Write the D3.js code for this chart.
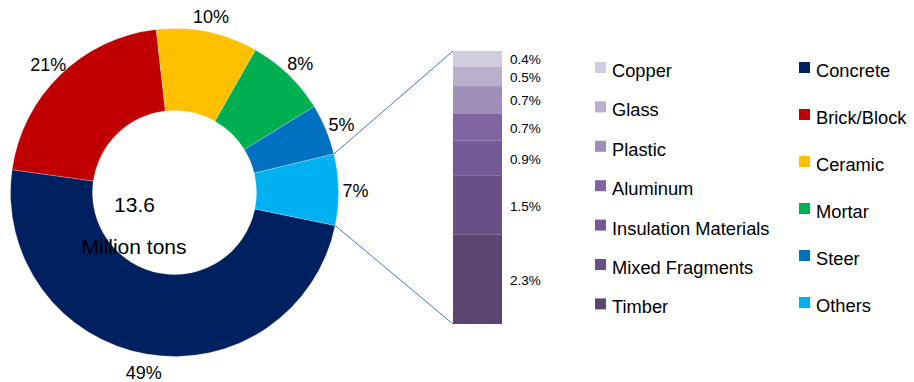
<!DOCTYPE html>
<html>
<head>
<meta charset="utf-8">
<script src="https://cdn.jsdelivr.net/npm/d3@7"></script>
<style>
  html, body { margin: 0; padding: 0; background: #fff; }
  svg { display: block; font-family: "Liberation Sans", Arial, sans-serif; }
</style>
</head>
<body>
<svg id="chart" width="914" height="382"></svg>
<script>
// Main materials (share of total, %)
const mainCategories = ["Concrete", "Brick/Block", "Ceramic", "Mortar", "Steer", "Others"];
const mainValues = [49, 21, 10, 8, 5, 7];
const mainColors = ["#002060", "#C00000", "#FFC000", "#00B050", "#0070C0", "#00B0F0"];

// Breakdown of "Others" (share of total, %), top to bottom
const otherCategories = ["Copper", "Glass", "Plastic", "Aluminum", "Insulation Materials", "Mixed Fragments", "Timber"];
const otherValues = [0.4, 0.5, 0.7, 0.7, 0.9, 1.5, 2.3];
const otherColors = ["#D2CCDF", "#BAAFCC", "#9F8FB8", "#8063A1", "#745A94", "#684F86", "#5B4672"];

const totalLabel = "13.6";
const unitLabel = "Million tons";

const svg = d3.select("#chart");
const cx = 174.5, cy = 192.5, rOuter = 164, rInner = 82;
const deg = Math.PI / 180;
const start = 101.6 * deg;

const pie = d3.pie().sort(null).value(d => d.value)
  .startAngle(start).endAngle(start + 2 * Math.PI);
const mainData = mainCategories.map((c, i) => ({ name: c, value: mainValues[i], color: mainColors[i] }));
const arcs = pie(mainData);

const arc = d3.arc().innerRadius(rInner).outerRadius(rOuter);
const labelArc = d3.arc().innerRadius(181).outerRadius(181);

const g = svg.append("g").attr("transform", `translate(${cx},${cy})`);
g.selectAll("path").data(arcs).join("path")
  .attr("d", arc)
  .attr("fill", d => d.data.color)
  .attr("stroke", "#fff")
  .attr("stroke-width", 0.25);

g.selectAll("text.pct").data(arcs).join("text")
  .attr("class", "pct")
  .attr("x", d => labelArc.centroid(d)[0])
  .attr("y", d => labelArc.centroid(d)[1] + 2)
  .attr("text-anchor", "middle")
  .attr("dominant-baseline", "central")
  .attr("font-size", 18)
  .attr("fill", "#000")
  .text(d => d.data.value + "%");

// centre text
svg.append("text").attr("x", 134.5).attr("y", 212).attr("text-anchor", "middle")
  .attr("font-size", 21).attr("fill", "#000").text(totalLabel);
svg.append("text").attr("x", 134).attr("y", 254).attr("text-anchor", "middle")
  .attr("font-size", 21).attr("fill", "#000").text(unitLabel);

// stacked breakdown column
const barX = 453, barW = 49, barTop = 51, barBottom = 324;
const othersTotal = d3.sum(otherValues);
const y = d3.scaleLinear().domain([0, othersTotal]).range([barTop, barBottom]);
let acc = 0;
const segs = otherValues.map((v, i) => { const s = { name: otherCategories[i], y0: acc, y1: acc + v, value: v, color: otherColors[i] }; acc += v; return s; });

svg.selectAll("rect.seg").data(segs).join("rect")
  .attr("class", "seg")
  .attr("x", barX).attr("width", barW)
  .attr("y", d => y(d.y0)).attr("height", d => y(d.y1) - y(d.y0))
  .attr("fill", d => d.color);

svg.selectAll("text.seglab").data(segs).join("text")
  .attr("class", "seglab")
  .attr("x", 510)
  .attr("y", d => (y(d.y0) + y(d.y1)) / 2 + 1)
  .attr("dominant-baseline", "central")
  .attr("font-size", 13.5)
  .attr("fill", "#000")
  .text(d => d.value + "%");

// connectors from the "Others" slice to the column
const othersArc = arcs[arcs.length - 1];
const pt = a => [cx + rOuter * Math.sin(a), cy - rOuter * Math.cos(a)];
const p0 = pt(othersArc.startAngle), p1 = pt(othersArc.endAngle);
svg.append("line").attr("x1", p0[0]).attr("y1", p0[1]).attr("x2", barX).attr("y2", barTop)
  .attr("stroke", "#4472C4").attr("stroke-width", 1);
svg.append("line").attr("x1", p1[0]).attr("y1", p1[1]).attr("x2", barX).attr("y2", barBottom)
  .attr("stroke", "#4472C4").attr("stroke-width", 1);

// legends
function legend(names, colors, x, top, step) {
  const lg = svg.append("g");
  names.forEach((n, i) => {
    lg.append("rect").attr("x", x).attr("y", top + i * step).attr("width", 11).attr("height", 11).attr("fill", colors[i]);
    lg.append("text").attr("x", x + 17).attr("y", top + 15 + i * step)
      .attr("font-size", 18.3).attr("fill", "#000").text(n);
  });
}
legend(otherCategories, otherColors, 595, 62, 39.4);
legend(mainCategories, mainColors, 799, 62, 47);
</script>
</body>
</html>
